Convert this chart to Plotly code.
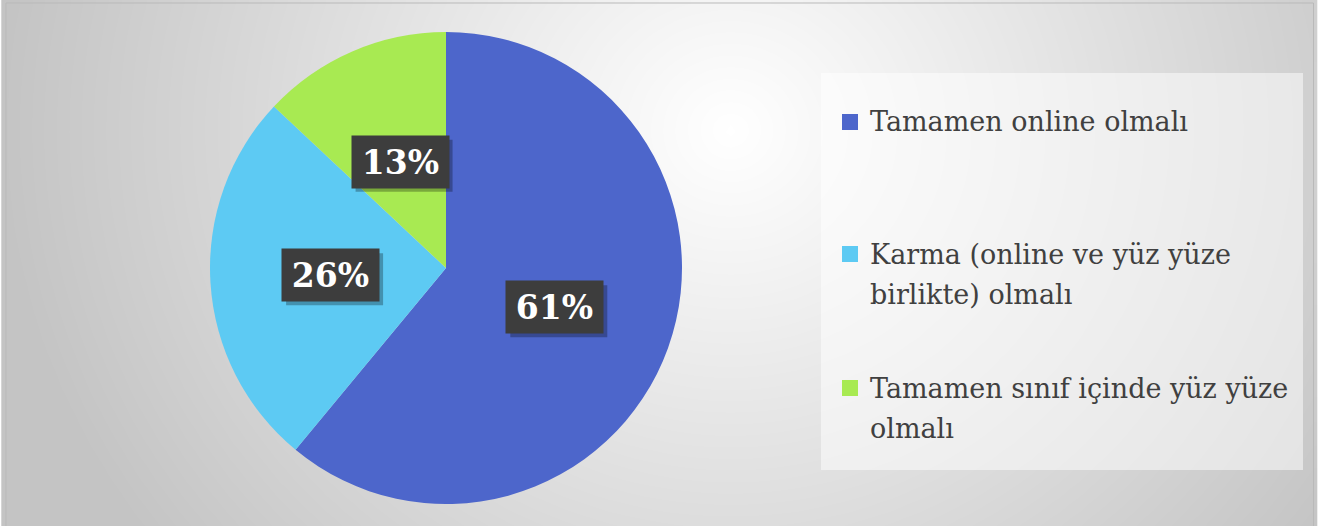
import math
import textwrap
import numpy as np
import plotly.graph_objects as go

# ---- data ----
categories = ["Tamamen online olmalı",
              "Karma (online ve yüz yüze birlikte) olmalı",
              "Tamamen sınıf içinde yüz yüze olmalı"]
values = [61, 26, 13]
colors = ["#4D66CB", "#5DCAF3", "#A8EA52"]

W, H = 1337, 526

# ---- layout constants (pixels) ----
pie_cx, pie_cy, pie_r = 446, 268, 236
label_frac = 0.49
box_w, box_h = 97, 52
leg_box = (821, 73, 1303, 470)
leg_sq_x, leg_sq_size, leg_txt_x = 842, 16, 868
leg_item_cy = [122, 254, 388]
leg_line_gap = 40
leg_font = 27
lab_font = 33

def px(x):
    return x / W

def py(y):
    return 1 - y / H

fig = go.Figure()

# background radial gradient (style only)
gx = np.linspace(6, 1313, 140)
gy = np.linspace(3, 526, 70)
XX, YY = np.meshgrid(gx, gy)
t = np.sqrt(((XX - 730) / 730) ** 2 + ((YY - 130) / 680) ** 2)
t = np.clip(t, 0, 1)
zz = 255 - (255 - 196) * t
fig.add_trace(go.Heatmap(
    x=gx, y=gy, z=zz, zsmooth="best", showscale=False, hoverinfo="skip",
    colorscale=[[0, "rgb(196,196,196)"], [1, "rgb(255,255,255)"]],
    zmin=196, zmax=255, xaxis="x", yaxis="y"))

# pie
fig.add_trace(go.Pie(
    labels=categories, values=values, sort=False, direction="clockwise",
    rotation=0, textinfo="none", hoverinfo="label+percent",
    marker=dict(colors=colors, line=dict(width=0)), showlegend=False,
    domain=dict(x=[px(pie_cx - pie_r), px(pie_cx + pie_r)],
                y=[py(pie_cy + pie_r), py(pie_cy - pie_r)])))

shapes = []
annotations = []

# chart frame
shapes.append(dict(type="rect", xref="paper", yref="paper",
                   x0=px(6), x1=px(1313.5), y0=py(527), y1=py(3),
                   line=dict(color="#b9b9b9", width=1), fillcolor="rgba(0,0,0,0)",
                   layer="above"))

# percent labels from data
total = sum(values)
cum = 0
for v in values:
    mid = (cum + v / 2) / total * 2 * math.pi
    cum += v
    lx = pie_cx + label_frac * pie_r * math.sin(mid)
    ly = pie_cy - label_frac * pie_r * math.cos(mid)
    # shadow
    shapes.append(dict(type="rect", xref="paper", yref="paper",
                       x0=px(lx - box_w / 2 + 4), x1=px(lx + box_w / 2 + 4),
                       y0=py(ly + box_h / 2 + 4), y1=py(ly - box_h / 2 + 4),
                       line=dict(width=0), fillcolor="rgba(0,0,0,0.28)", layer="above"))
    annotations.append(dict(
        x=px(lx), y=py(ly), xref="paper", yref="paper", showarrow=False,
        text=f"<b>{round(v / total * 100)}%</b>",
        font=dict(family="DejaVu Serif", size=lab_font, color="white"),
        bgcolor="#3d3d3d", width=box_w - 10, height=box_h - 10, borderpad=5,
        xanchor="center", yanchor="middle"))

# legend box
shapes.append(dict(type="rect", xref="paper", yref="paper",
                   x0=px(leg_box[0]), x1=px(leg_box[2]),
                   y0=py(leg_box[3]), y1=py(leg_box[1]),
                   line=dict(width=0), fillcolor="rgba(255,255,255,0.5)", layer="above"))

for cat, col, cy in zip(categories, colors, leg_item_cy):
    shapes.append(dict(type="rect", xref="paper", yref="paper",
                       x0=px(leg_sq_x), x1=px(leg_sq_x + leg_sq_size),
                       y0=py(cy + leg_sq_size / 2), y1=py(cy - leg_sq_size / 2),
                       line=dict(width=0), fillcolor=col, layer="above"))
    for i, line in enumerate(textwrap.wrap(cat, 29)):
        annotations.append(dict(
            x=px(leg_txt_x), y=py(cy + i * leg_line_gap), xref="paper", yref="paper",
            showarrow=False, text=line, align="left",
            xanchor="left", yanchor="middle",
            font=dict(family="DejaVu Serif", size=leg_font, color="#404040")))

fig.update_layout(
    width=W, height=H, margin=dict(l=0, r=0, t=0, b=0),
    paper_bgcolor="white", plot_bgcolor="white",
    xaxis=dict(range=[0, W], domain=[0, 1], visible=False, fixedrange=True),
    yaxis=dict(range=[H, 0], domain=[0, 1], visible=False, fixedrange=True),
    shapes=shapes, annotations=annotations)

fig.write_html("out.html", config={"displayModeBar": False},
               post_script="document.body.style.margin='0';document.body.style.overflow='hidden';")
